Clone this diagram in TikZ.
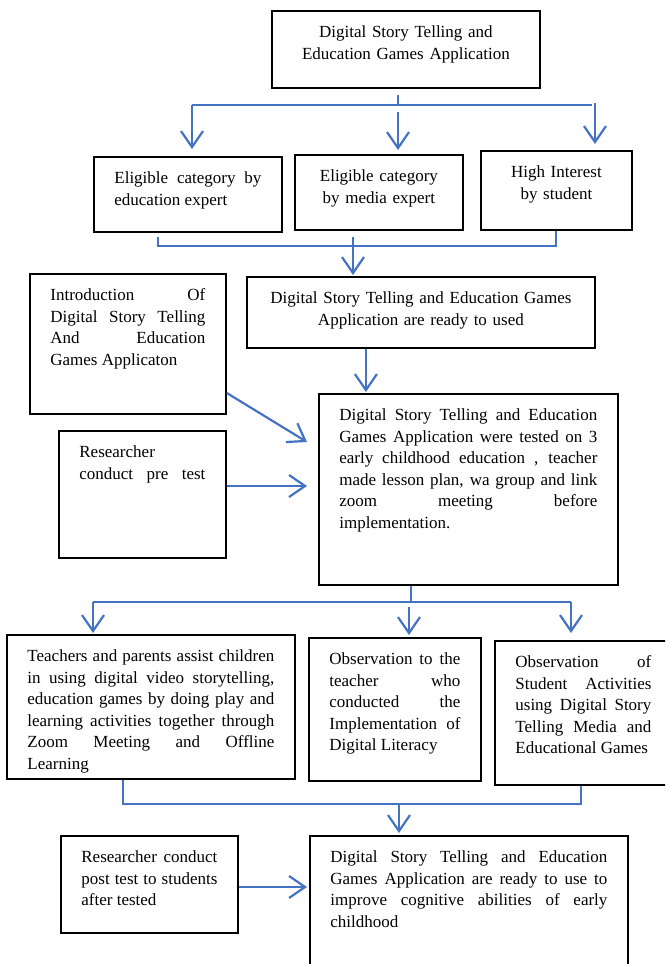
\documentclass[tikz,border=0pt]{standalone}
\usepackage{fontspec}
\setmainfont{Liberation Serif}
\usepackage{tikz}
\usetikzlibrary{arrows.meta}
\definecolor{flowblue}{HTML}{4472C4}

\begin{document}
\begin{tikzpicture}[x=1pt, y=-1pt,
			block/.style={draw=black, line width=1.8pt, anchor=north west, inner xsep=20.5pt, inner ysep=0pt, text height=27pt, font=\fontsize{17}{21.5}\selectfont},
			link/.style={draw=flowblue, line width=1.1pt},
			flow/.style={draw=flowblue, line width=2.2pt, -{Straight Barb[length=16pt, width=22pt]}}
		]
		\useasboundingbox (0,0) rectangle (665,964);
		\clip (0,0) rectangle (665,964);

		\node[block, text width=227pt, text depth=50pt, align=center] (app) at (271,10) {Digital Story Telling and\\Education Games Application};
		\node[block, text width=147pt, text depth=48pt, align=justify] (edu) at (93,156) {Eligible category by\linebreak education expert};
		\node[block, text width=127pt, text depth=48pt, align=center] (media) at (294,154) {Eligible category\\by media expert};
		\node[block, text width=110pt, text depth=52pt, align=center] (interest) at (480,150) {High Interest\\by student};
		\node[block, text width=307pt, text depth=44pt, align=center] (ready) at (246,276) {Digital Story Telling and Education Games\\Application are ready to used};
		\node[block, text width=155pt, text depth=113pt, align=justify] (intro) at (29,273) {Introduction Of\linebreak Digital Story Telling\linebreak And Education\linebreak Games Applicaton};
		\node[block, text width=126pt, text depth=100pt, align=justify] (pretest) at (58,430) {Researcher\\\makebox[\linewidth][s]{conduct pre test}};
		\node[block, text width=258pt, text depth=164pt, align=justify] (tested) at (318,393) {Digital Story Telling and Education\linebreak Games Application were tested on 3\linebreak early childhood education , teacher\linebreak made lesson plan, wa group and link\linebreak zoom meeting before\linebreak implementation.};
		\node[block, text width=247pt, text depth=117pt, align=justify] (assist) at (6,634) {Teachers and parents assist children\linebreak in using digital video storytelling,\linebreak education games by doing play and\linebreak learning activities together through\linebreak Zoom Meeting and Offline\linebreak Learning};
		\node[block, text width=131pt, text depth=116pt, align=justify] (obsT) at (308,637) {Observation to the\linebreak teacher who\linebreak conducted the\linebreak Implementation of\linebreak Digital Literacy};
		\node[block, text width=136pt, text depth=117pt, align=justify] (obsS) at (494,640) {Observation of\linebreak Student Activities\linebreak using Digital Story\linebreak Telling Media and\linebreak Educational Games};
		\node[block, text width=136pt, text depth=70pt, align=justify] (posttest) at (60,835) {Researcher conduct\linebreak post test to students\linebreak after tested};
		\node[block, text width=277pt, text depth=123pt, align=justify] (final) at (309,835) {Digital Story Telling and Education\linebreak Games Application are ready to use to\linebreak improve cognitive abilities of early\linebreak childhood};

		% splits
		\coordinate (s1) at (398,105);
		\coordinate (s1l) at (192,105);
		\coordinate (s1r) at (592,105);
		\coordinate (s2l) at (158,246);
		\coordinate (s2m) at (353,246);
		\coordinate (s2r) at (556,246);
		\coordinate (s3) at (411,602);
		\coordinate (s3l) at (93,602);
		\coordinate (s3r) at (571,602);
		\coordinate (s4l) at (123,804);
		\coordinate (s4m) at (399,804);
		\coordinate (s4r) at (581,804);
		\coordinate (tin) at ([xshift=-11pt]tested.west);
		\coordinate (fin) at ([xshift=-2pt]final.west);

		\draw[link] ([yshift=-6pt]s1 |- app.south) -- (s1);
		\draw[link] (s1l) -- (s1r);
		\draw[flow] (s1l) -- ([yshift=7pt]s1l |- edu.north);
		\draw[flow] ([yshift=-7pt]s1) -- ([yshift=4pt]s1 |- media.north);
		\draw[flow] ([xshift=3pt, yshift=2pt]s1r) -- ([xshift=3pt, yshift=6pt]s1r |- interest.north);

		\draw[link] ([yshift=-4pt]s2l |- edu.south) -- (s2l) -- (s2r) -- (s2r |- interest.south);
		\draw[flow] ([yshift=9pt]s2m) -- ([yshift=1pt]s2m |- ready.north);
		\draw[flow] ([xshift=-55pt]ready.south) -- ([xshift=-55pt, yshift=1pt]ready.south |- tested.north);

		\draw[flow] ([yshift=-120pt]intro.north east) -- ([xshift=-11pt, yshift=-49pt]tested.north west);
		\draw[flow] ([yshift=-56pt]pretest.north east) coordinate (p) -- (p -| tin);

		\draw[link] (s3 |- tested.south) -- (s3);
		\draw[link] (s3l) -- (s3r);
		\draw[flow] (s3l) -- ([yshift=1pt]s3l |- assist.north);
		\draw[flow] ([xshift=-2pt, yshift=-5pt]s3) -- ([xshift=-2pt, yshift=2pt]s3 |- obsT.north);
		\draw[flow] (s3r) -- ([yshift=7pt]s3r |- obsS.north);

		\draw[link] (s4l |- assist.south) -- (s4l) -- (s4r) -- (s4r |- obsS.south);
		\draw[flow] (s4m) -- ([yshift=2pt]s4m |- final.north);
		\draw[flow] ([yshift=-52pt]posttest.north east) coordinate (q) -- (q -| fin);
\end{tikzpicture}
\end{document}
